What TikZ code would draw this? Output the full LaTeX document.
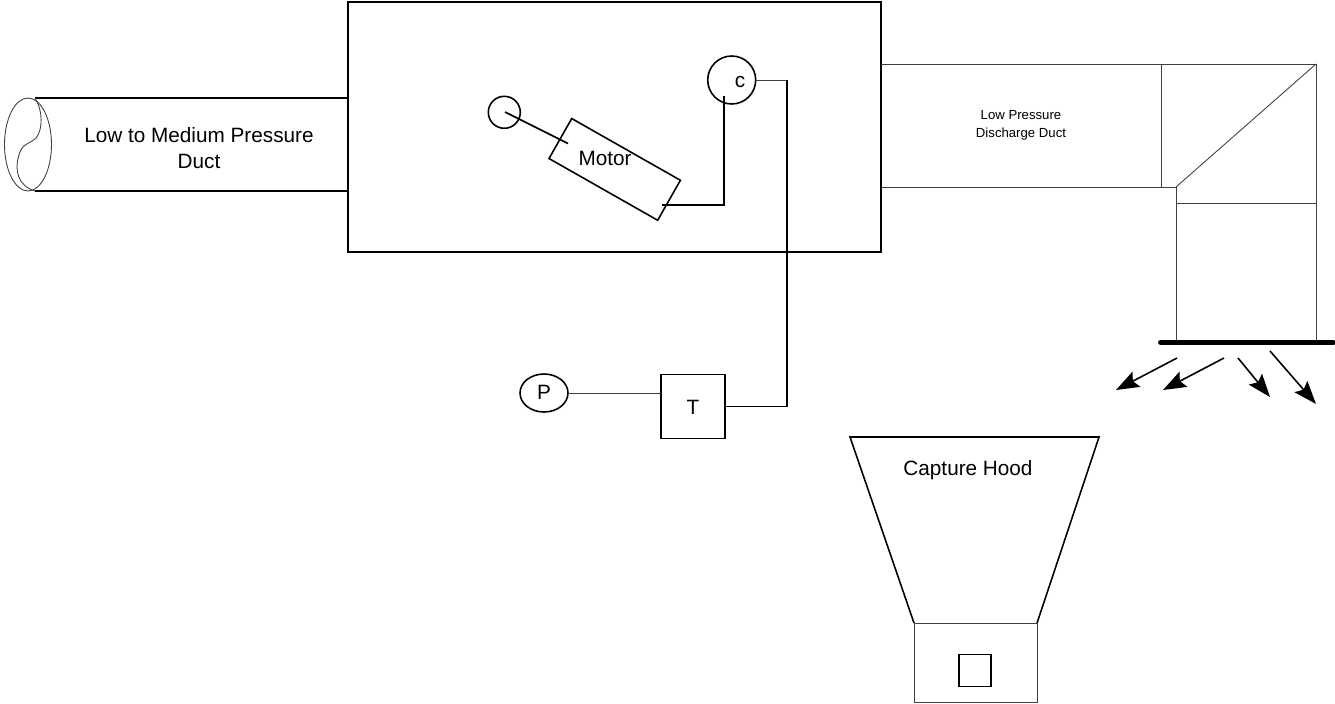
\documentclass[tikz,border=0pt]{standalone}
\usepackage{fontspec}
\setmainfont{Liberation Sans}
\usetikzlibrary{arrows.meta, shapes.geometric}

\begin{document}
\begin{tikzpicture}[x=0.02cm, y=-0.02cm, >={Stealth[length=4.6mm, width=3.4mm, inset=0.8mm]},
    heavy/.style={draw, line width=0.9pt},
    fine/.style={draw, line width=0.5pt, black!75},
    label/.style={inner sep=0pt, font=\fontsize{11.8}{15}\selectfont, align=center},
    smalllabel/.style={inner sep=0pt, font=\fontsize{7.5}{10}\selectfont, align=center},
    flow/.style={->, line width=0.9pt}]
\useasboundingbox (0,0) rectangle (1335,703);
\node[heavy, outer sep=0pt, minimum width=10.66cm, minimum height=5cm] (mainbox) at (614.5,127) {};
% inlet duct
\coordinate (inlettop) at (35,98);
\coordinate (inletbot) at (35,191);
\draw[heavy] (inlettop) -- (inlettop -| mainbox.west);
\draw[heavy] (inletbot) -- (inletbot -| mainbox.west);
\node[fine, ellipse, inner sep=0pt, outer sep=0pt, minimum width=0.94cm, minimum height=1.86cm] (inletend) at (28,144.5) {};
\draw[fine] (inlettop) .. controls (43,110) and (43,130) .. (36,138) .. controls (30,144) and (22,143) .. (19,155) .. controls (14,170) and (18,186) .. (inletbot);
\node[label] (inletlabel) at (199,148) {Low to Medium Pressure\\Duct};
% motor and controls
\node[heavy, outer sep=0pt, circle, inner sep=0pt, minimum size=0.64cm] (fan) at (504.3,112.3) {};
\node[heavy, outer sep=0pt, minimum width=2.5cm, minimum height=0.92cm, rotate=-29.6] (motor) at (614.7,169.4) {};
\node[label] (motorlabel) at (605,158) {Motor};
\node[heavy, outer sep=0pt, circle, inner sep=0pt, minimum size=0.96cm] (comp) at (731.7,80) {};
\node[label] (complabel) at (740,82) {c};
\coordinate (shaftin) at (505,112);
\coordinate (shaftout) at (568,143.5);
\draw[heavy] (shaftin) -- (shaftout);
\coordinate (motorout) at (661.7,205);
\coordinate (compin) at (724,96);
\draw[heavy] (motorout) -- (motorout -| compin) -- (compin);
\node[heavy, outer sep=0pt, minimum size=1.28cm] (tbox) at (693,406.5) {};
\node[label] (tlabel) at (693,407) {T};
\node[heavy, outer sep=0pt, ellipse, inner sep=0pt, minimum width=0.96cm, minimum height=0.76cm] (pgauge) at (544,393) {};
\node[label] (plabel) at (544,392) {P};
\draw[fine] (pgauge.east) -- (pgauge.east -| tbox.west);
\coordinate (riser) at (787,80);
\draw[fine] (comp.east) -- (riser);
\draw[heavy] (riser) -- (riser |- tbox.east) -- (tbox.east);
% discharge duct
\coordinate (disctop) at (1316,64);
\coordinate (discbot) at (1176,187);
\coordinate (barleft) at (1161,342.5);
\coordinate (barright) at (1333,342.5);
\draw[fine] (mainbox.east |- disctop) -- (disctop);
\draw[fine] (mainbox.east |- discbot) -- (discbot);
\draw[fine] (1161,64) -- (1161,187);
\draw[fine] (discbot) -- (disctop);
\draw[fine] (1176,203) -- (1316,203);
\draw[fine] (discbot) -- (discbot |- barleft);
\draw[fine] (disctop) -- (disctop |- barleft);
\draw[line width=3.4pt, line cap=round] (barleft) -- (barright);
\node[smalllabel] (disclabel) at (1021,125.5) {Low Pressure\\Discharge Duct};
\coordinate (a1) at (1177,358);
\coordinate (a2) at (1116,390);
\coordinate (b1) at (1224,358);
\coordinate (b2) at (1163,390);
\coordinate (c1) at (1238,358);
\coordinate (c2) at (1270,397);
\coordinate (d1) at (1270,351);
\coordinate (d2) at (1316,404);
\draw[flow] (a1) -- (a2);
\draw[flow] (b1) -- (b2);
\draw[flow] (c1) -- (c2);
\draw[flow] (d1) -- (d2);
% capture hood
\coordinate (hoodtl) at (850,437);
\coordinate (hoodtr) at (1099,437);
\coordinate (hoodbl) at (914,623);
\coordinate (hoodbr) at (1037,623);
\draw[heavy] (hoodbl) -- (hoodtl) -- (hoodtr) -- (hoodbr);
\draw[fine] (hoodbl) -- (hoodbr);
\draw[fine] (hoodbl) -- (914,702) -- (1037,702) -- (hoodbr);
\node[heavy, outer sep=0pt, minimum size=0.64cm] (hoodsq) at (975,670.5) {};
\node[label] (hoodlabel) at (968,470) {Capture Hood};
\end{tikzpicture}
\end{document}
